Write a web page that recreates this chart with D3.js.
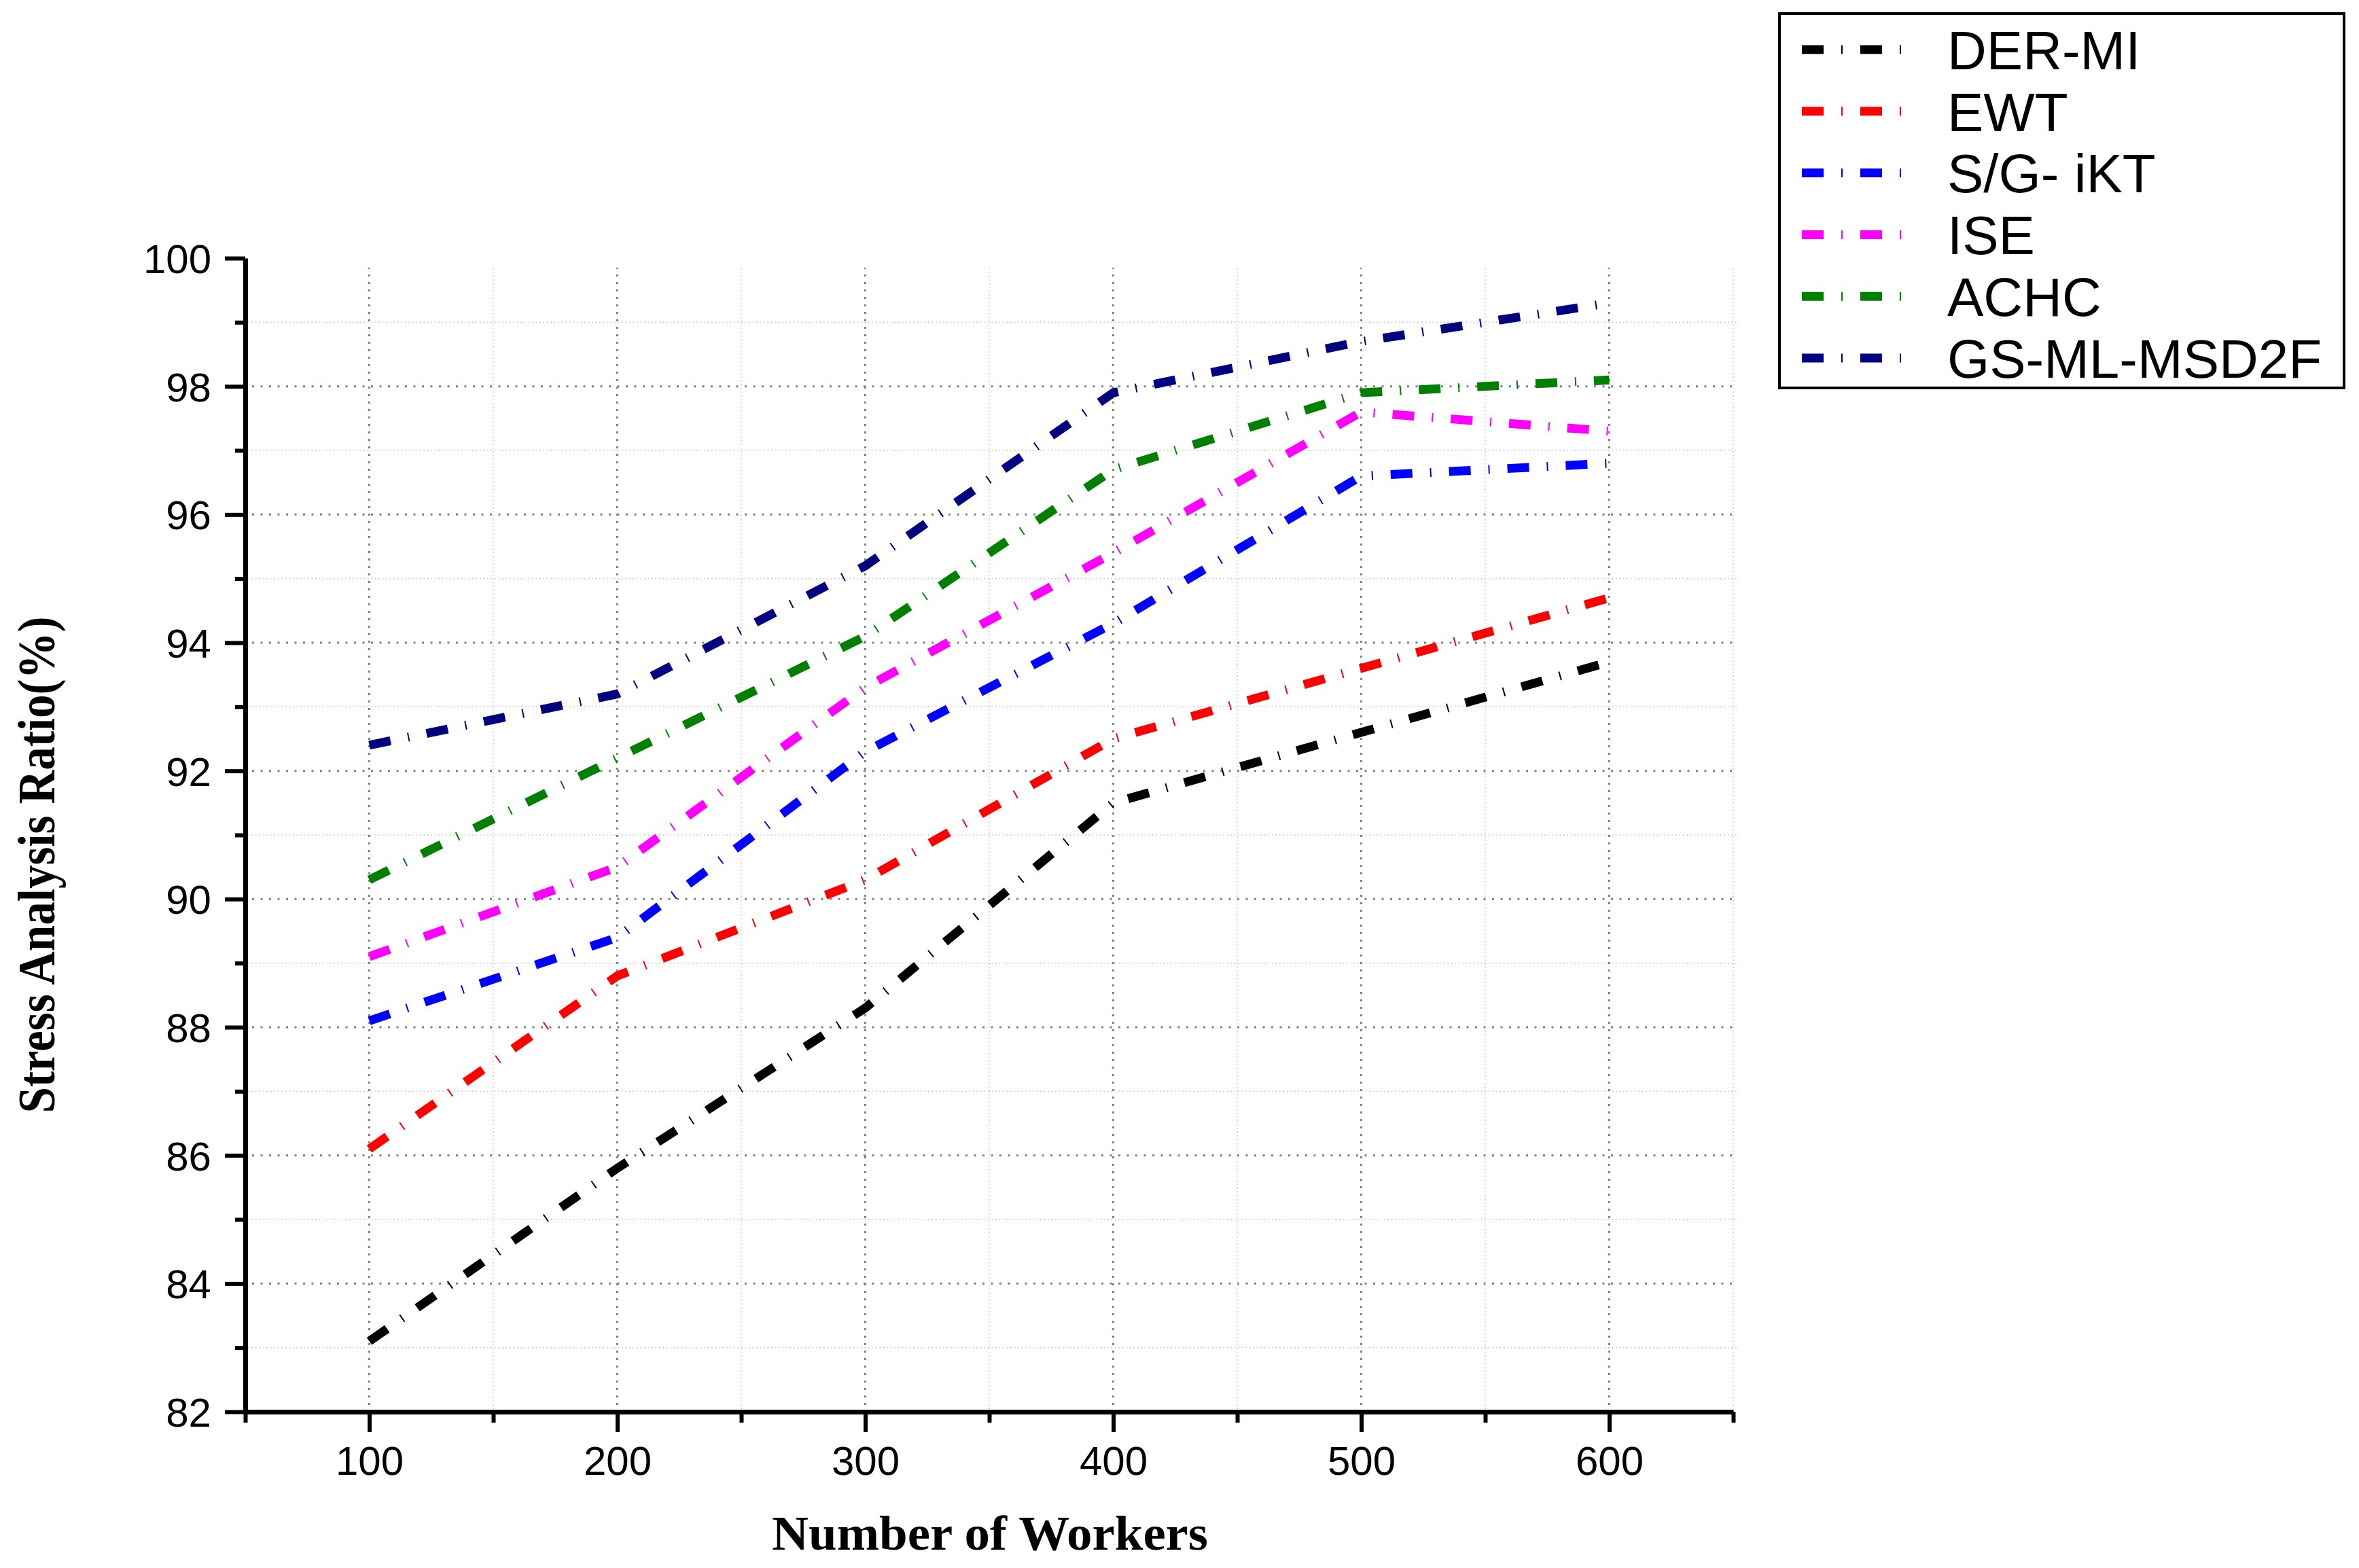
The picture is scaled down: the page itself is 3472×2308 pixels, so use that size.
<!DOCTYPE html>
<html>
<head>
<meta charset="utf-8">
<script src="https://cdn.jsdelivr.net/npm/d3@7"></script>
<style>
  html, body { margin: 0; padding: 0; background: #ffffff; }
  svg { display: block; }
</style>
</head>
<body>
<script>
// ---- Data ----
const workers = [100, 200, 300, 400, 500, 600];
const seriesNames = ["DER-MI", "EWT", "S/G- iKT", "ISE", "ACHC", "GS-ML-MSD2F"];
const seriesColors = ["#000000", "#ff0000", "#0000ff", "#ff00ff", "#008000", "#000080"];
const derMI    = [83.1, 85.8, 88.3, 91.5, 92.6, 93.7];
const ewt      = [86.1, 88.8, 90.3, 92.5, 93.6, 94.7];
const sgIKT    = [88.1, 89.4, 92.3, 94.3, 96.6, 96.8];
const ise      = [89.1, 90.5, 93.3, 95.4, 97.6, 97.3];
const achc     = [90.3, 92.2, 94.1, 96.7, 97.9, 98.1];
const gsMLMSD2F= [92.4, 93.2, 95.2, 97.9, 98.7, 99.3];
const seriesValues = [derMI, ewt, sgIKT, ise, achc, gsMLMSD2F];

const xMajorTicks = [100, 200, 300, 400, 500, 600];
const xMinorTicks = [50, 150, 250, 350, 450, 550, 650];
const yMajorTicks = [82, 84, 86, 88, 90, 92, 94, 96, 98, 100];
const yMinorTicks = [83, 85, 87, 89, 91, 93, 95, 97, 99];
const xTitle = "Number of Workers";
const yTitle = "Stress Analysis Ratio(%)";

// ---- Layout ----
const W = 3472, H = 2308;
const svg = d3.select("body").append("svg").attr("width", W).attr("height", H)
  .style("background", "#fff");

const x = d3.scaleLinear().domain([50, 650]).range([361, 2551]);
const y = d3.scaleLinear().domain([82, 100]).range([2078, 380]);

// ---- Grid ----
const grid = svg.append("g");
grid.selectAll("line.hmin").data(yMinorTicks).join("line")
  .attr("x1", x(50) + 4).attr("x2", 2557)
  .attr("y1", d => y(d)).attr("y2", d => y(d))
  .attr("stroke", "#bdbdbd").attr("stroke-width", 1.5).attr("stroke-dasharray", "1.5,4");
grid.selectAll("line.hmaj").data(yMajorTicks.filter(d => d > 82 && d < 100)).join("line")
  .attr("x1", x(50) + 10).attr("x2", 2557)
  .attr("y1", d => y(d)).attr("y2", d => y(d))
  .attr("stroke", "#808080").attr("stroke-width", 3).attr("stroke-dasharray", "3,9.5");
grid.selectAll("line.vmin").data(xMinorTicks.filter(d => d > 50)).join("line")
  .attr("x1", d => x(d)).attr("x2", d => x(d))
  .attr("y1", y(82) - 4).attr("y2", y(99.85))
  .attr("stroke", "#bdbdbd").attr("stroke-width", 1.5).attr("stroke-dasharray", "1.5,4");
grid.selectAll("line.vmaj").data(xMajorTicks).join("line")
  .attr("x1", d => x(d)).attr("x2", d => x(d))
  .attr("y1", y(82) - 10).attr("y2", y(99.85))
  .attr("stroke", "#808080").attr("stroke-width", 3).attr("stroke-dasharray", "3,8");

// ---- Axes ----
function styleAxis(g) {
  g.selectAll(".domain").attr("stroke", "#000").attr("stroke-width", 7);
  g.selectAll(".tick line").attr("stroke", "#000").attr("stroke-width", 6);
  g.selectAll(".tick text").attr("fill", "#000")
    .style("font-family", "'Liberation Sans', Arial, sans-serif").style("font-size", "60px");
}

svg.append("g").attr("transform", `translate(${x(50)},0)`)
  .call(d3.axisLeft(y).tickValues(yMinorTicks).tickSize(15).tickSizeOuter(0).tickFormat(""))
  .call(g => { styleAxis(g); g.select(".domain").remove(); });
svg.append("g").attr("transform", `translate(${x(50)},0)`)
  .call(d3.axisLeft(y).tickValues(yMajorTicks).tickSize(30).tickSizeOuter(0).tickPadding(20)
    .tickFormat(d3.format("d")))
  .call(styleAxis)
  .call(g => g.selectAll(".tick text").attr("dy", "0.36em"));

svg.append("g").attr("transform", `translate(0,${y(82)})`)
  .call(d3.axisBottom(x).tickValues(xMinorTicks).tickSize(16).tickSizeOuter(0).tickFormat(""))
  .call(g => { styleAxis(g); g.select(".domain").remove(); });
svg.append("g").attr("transform", `translate(0,${y(82)})`)
  .call(d3.axisBottom(x).tickValues(xMajorTicks).tickSize(30).tickSizeOuter(0).tickPadding(20)
    .tickFormat(d3.format("d")))
  .call(styleAxis)
  .call(g => g.selectAll(".tick text").attr("dy", "0.71em"));

// ---- Titles ----
svg.append("text")
  .attr("x", 1457).attr("y", 2281)
  .attr("text-anchor", "middle")
  .attr("textLength", 642).attr("lengthAdjust", "spacingAndGlyphs")
  .style("font-family", "'Liberation Serif', 'Times New Roman', serif")
  .style("font-weight", "bold").style("font-size", "72px")
  .text(xTitle);

svg.append("text")
  .attr("transform", "translate(80,1273) rotate(-90)")
  .attr("text-anchor", "middle")
  .attr("textLength", 731).attr("lengthAdjust", "spacingAndGlyphs")
  .style("font-family", "'Liberation Serif', 'Times New Roman', serif")
  .style("font-weight", "bold").style("font-size", "78px")
  .text(yTitle);

// ---- Lines ----
const dash = "32,26,2,26";
const line = d3.line().x((d, i) => x(workers[i])).y(d => y(d));
svg.append("g").selectAll("path").data(seriesValues).join("path")
  .attr("d", d => line(d))
  .attr("fill", "none")
  .attr("stroke", (d, i) => seriesColors[i])
  .attr("stroke-width", 13)
  .attr("stroke-linecap", "butt")
  .attr("stroke-linejoin", "miter")
  .attr("stroke-dasharray", dash);

// ---- Legend ----
const legend = svg.append("g");
legend.append("rect")
  .attr("x", 2619).attr("y", 20).attr("width", 831).attr("height", 551)
  .attr("fill", "#fff").attr("stroke", "#000").attr("stroke-width", 4);
const rowY = i => 73 + i * 90.8;
legend.selectAll("line.leg").data(seriesNames).join("line")
  .attr("x1", 2652).attr("x2", 2798)
  .attr("y1", (d, i) => rowY(i)).attr("y2", (d, i) => rowY(i))
  .attr("stroke", (d, i) => seriesColors[i])
  .attr("stroke-width", 13).attr("stroke-dasharray", dash);
legend.selectAll("text.leg").data(seriesNames).join("text")
  .attr("x", 2866).attr("y", (d, i) => rowY(i))
  .attr("dy", "0.36em")
  .style("font-family", "'Liberation Sans', Arial, sans-serif")
  .style("font-size", "80px")
  .text(d => d);
</script>
</body>
</html>
